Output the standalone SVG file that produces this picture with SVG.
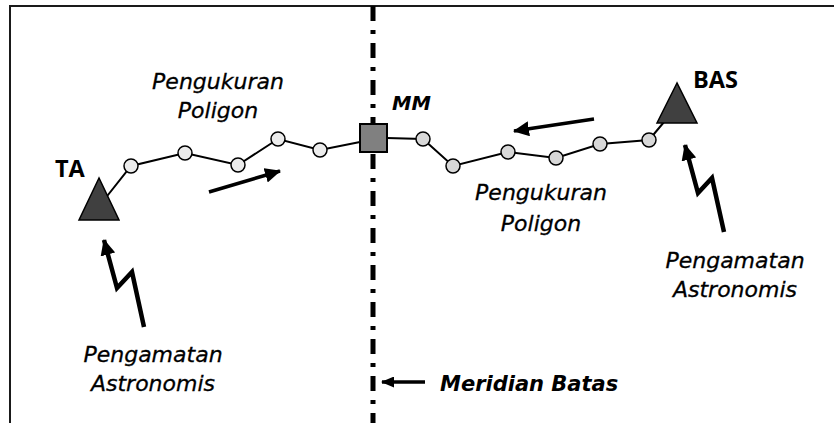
<svg xmlns="http://www.w3.org/2000/svg" width="834" height="423" viewBox="0 0 834 423">
<style>
.frame{fill:none;stroke:#1a1a1a;stroke-width:2}
.meridian{fill:none;stroke:#000;stroke-width:5;stroke-dasharray:15 9 4 9}
.poly{fill:none;stroke:#000;stroke-width:2}
.stn{stroke:#000;stroke-width:1.5}
.tri{fill:#404040;stroke:#000;stroke-width:1.5}
.mm{fill:#808080;stroke:#000;stroke-width:2}
.arr{fill:none;stroke:#000;stroke-width:3.5}
.bolt{fill:none;stroke:#000;stroke-width:4.5;stroke-linejoin:miter}
.it{font-family:"DejaVu Sans",Verdana,sans-serif;font-style:italic;font-size:22px;fill:#000;text-anchor:middle;stroke:#000;stroke-width:0.3}
.bd{font-family:"Open Sans","DejaVu Sans",sans-serif;font-weight:bold;font-size:23.5px;fill:#000}
.bi{font-family:"DejaVu Sans",sans-serif;font-weight:bold;font-style:italic;font-size:21px;fill:#000}
</style>
<defs>
<marker id="ah" markerUnits="userSpaceOnUse" markerWidth="17" markerHeight="15" refX="15" refY="7.5" orient="auto">
<path d="M0,0 L16,7.5 L0,15 Z" fill="#000"/>
</marker>
<marker id="ahs" markerUnits="userSpaceOnUse" markerWidth="13" markerHeight="11" refX="12" refY="5.5" orient="auto">
<path d="M0,0 L13,5.5 L0,11 Z" fill="#000"/>
</marker>
</defs>
<g id="frame">
<path class="frame" d="M10,423 L10,6 L834,6"/>
</g>
<g id="meridian-line">
<line class="meridian" x1="373" y1="6" x2="373" y2="423"/>
</g>
<g id="connectors">
<polyline class="poly" points="104,200 131,166 185,153 238,165 278,139 320,150 360,142"/>
<polyline class="poly" points="387,138 423,139 453,166 508,152 556,158 600,144 649,140 664,122"/>
<line class="arr" x1="209" y1="192" x2="280" y2="171" marker-end="url(#ah)"/>
<line class="arr" x1="594" y1="119" x2="514" y2="131" marker-end="url(#ah)"/>
<polyline class="bolt" points="144,327 132,272 117,288 104,240" marker-end="url(#ah)"/>
<polyline class="bolt" points="724,232 712,178 698,193 685,145" marker-end="url(#ah)"/>
<line class="arr" x1="425" y1="382" x2="382" y2="382" marker-end="url(#ahs)"/>
</g>
<g id="stations-left">
<circle class="stn" cx="131" cy="166" r="7" fill="#ececec"/>
<circle class="stn" cx="185" cy="153" r="7" fill="#ececec"/>
<circle class="stn" cx="238" cy="165" r="7" fill="#ececec"/>
<circle class="stn" cx="278" cy="139" r="7" fill="#ececec"/>
<circle class="stn" cx="320" cy="150" r="7" fill="#ececec"/>
</g>
<g id="stations-right">
<circle class="stn" cx="423" cy="139" r="7" fill="#d8d8d8"/>
<circle class="stn" cx="453" cy="166" r="7" fill="#d8d8d8"/>
<circle class="stn" cx="508" cy="152" r="7" fill="#d8d8d8"/>
<circle class="stn" cx="556" cy="158" r="7" fill="#d8d8d8"/>
<circle class="stn" cx="600" cy="144" r="7" fill="#d8d8d8"/>
<circle class="stn" cx="649" cy="140" r="7" fill="#d8d8d8"/>
</g>
<g id="node-TA">
<polygon class="tri" points="99,178 79,220 119,220"/>
<text class="bd" x="55" y="177">TA</text>
</g>
<g id="node-MM">
<rect class="mm" x="360" y="124" width="27" height="28"/>
<text class="bi" x="392" y="110" style="font-size:19.5px">MM</text>
</g>
<g id="node-BAS">
<polygon class="tri" points="677,83 657,123 697,123"/>
<text class="bd" x="693" y="88">BAS</text>
</g>
<g id="labels">
<text class="it" x="218" y="89">Pengukuran</text>
<text class="it" x="218" y="118">Poligon</text>
<text class="it" x="541" y="200">Pengukuran</text>
<text class="it" x="541" y="231">Poligon</text>
<text class="it" x="153" y="362">Pengamatan</text>
<text class="it" x="153" y="391">Astronomis</text>
<text class="it" x="735" y="268">Pengamatan</text>
<text class="it" x="735" y="297">Astronomis</text>
<text class="bi" x="440" y="391">Meridian Batas</text>
</g>
</svg>
